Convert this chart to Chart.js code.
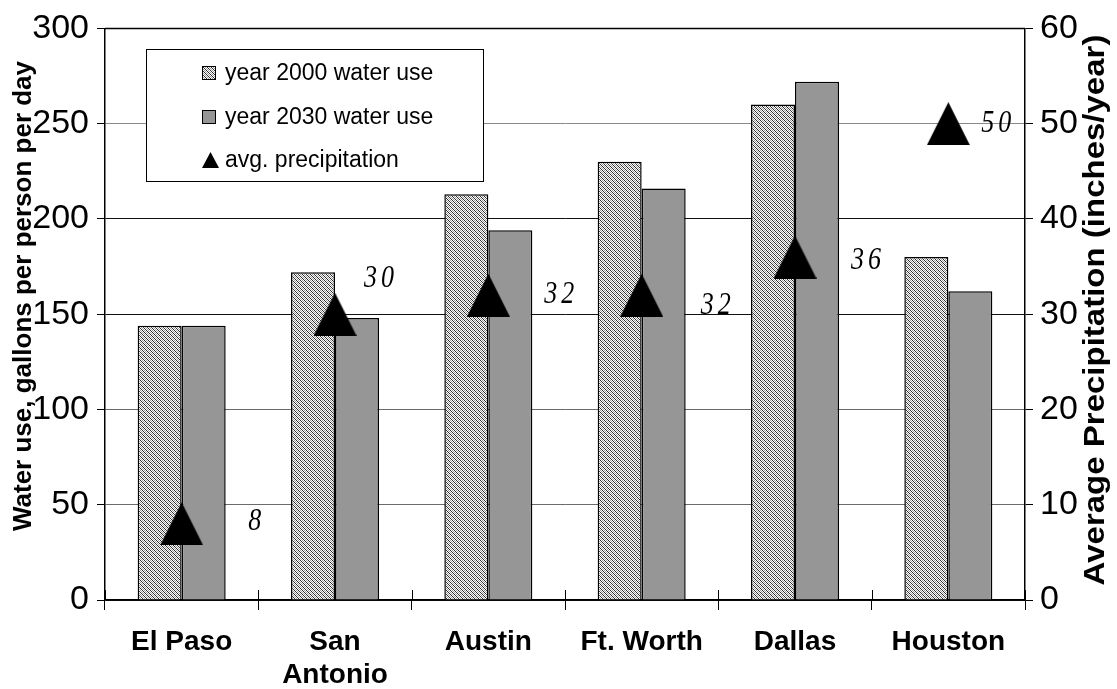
<!DOCTYPE html>
<html>
<head>
<meta charset="utf-8">
<script src="https://cdn.jsdelivr.net/npm/chart.js@4.4.0/dist/chart.umd.min.js"></script>
<style>
  html, body { margin: 0; padding: 0; background: #fff; }
  canvas { display: block; }
</style>
</head>
<body>
<canvas id="chart" width="1117" height="689"></canvas>
<script>
// Texas cities: per-capita water use (gallons/person/day) and rainfall (inches/year)
const cities = ['El Paso', ['San', 'Antonio'], 'Austin', 'Ft. Worth', 'Dallas', 'Houston'];
const use2000 = [144, 172, 213, 230, 260, 180];
const use2030 = [144, 148, 194, 216, 272, 162];
const precipitation = [8, 30, 32, 32, 36, 50];
const waterTicks = [0, 50, 100, 150, 200, 250, 300];
const precipTicks = [0, 10, 20, 30, 40, 50, 60];
const seriesNames = ['year 2000 water use', 'year 2030 water use', 'avg. precipitation'];

// where each rainfall label sits relative to its marker
const labelShiftX = [73, 44, 71, 74, 71, 48];
const labelShiftY = [-2, -35, 0, 11, 4, 0];

const canvas = document.getElementById('chart');
const ctx = canvas.getContext('2d');

Chart.defaults.font.family = '"Liberation Sans", Arial, sans-serif';
Chart.defaults.color = '#000';

// fine diagonal dither used for the year-2000 bars
function makeHatch(size) {
  const t = document.createElement('canvas');
  t.width = size; t.height = size;
  const g = t.getContext('2d');
  g.fillStyle = '#ffffff';
  g.fillRect(0, 0, size, size);
  for (let y = 0; y < size; y++) {
    for (let x = 0; x < size; x++) {
      const d = (x - y + size) % size;
      if (d === 0) { g.fillStyle = '#2e2e2e'; g.fillRect(x, y, 1, 1); }
      else if (d === 2) { g.fillStyle = '#9a9a9a'; g.fillRect(x, y, 1, 1); }
    }
  }
  return ctx.createPattern(t, 'repeat');
}

// solid black triangle marker
function makeTriangle(w, h) {
  const c = document.createElement('canvas');
  c.width = w; c.height = h;
  const g = c.getContext('2d');
  g.fillStyle = '#000';
  g.beginPath();
  g.moveTo(w / 2, 0);
  g.lineTo(w, h);
  g.lineTo(0, h);
  g.closePath();
  g.fill();
  return c;
}

const hatch = makeHatch(4);
const marker = makeTriangle(43, 43);
const legendMarker = makeTriangle(17, 16);
const solidGray = '#969696';

const gridShade = { 250: '#8a8a8a', 100: '#6a6a6a', 50: '#6a6a6a' };

// plot frame top edge and the tick marks that cross the category axis
const framePlugin = {
  id: 'frame',
  afterDatasetsDraw(chart) {
    const { ctx, chartArea: a, scales } = chart;
    ctx.save();
    ctx.strokeStyle = '#000';
    ctx.lineWidth = 1.5;
    ctx.beginPath();
    ctx.moveTo(a.left, a.top);
    ctx.lineTo(a.right, a.top);
    ctx.stroke();
    ctx.lineWidth = 1;
    const xs = scales.x;
    for (let i = 0; i <= cities.length; i++) {
      const px = Math.round(xs.getPixelForValue(i - 0.5)) + 0.5;
      ctx.beginPath();
      ctx.moveTo(px, a.bottom - 10);
      ctx.lineTo(px, a.bottom);
      ctx.stroke();
    }
    ctx.restore();
  }
};

// rainfall value labels, axis titles and the boxed legend
const annotatePlugin = {
  id: 'annotate',
  afterDraw(chart) {
    const { ctx } = chart;
    const meta = chart.getDatasetMeta(0);

    ctx.save();
    ctx.fillStyle = '#000';
    ctx.font = 'italic 26px "Liberation Serif", "Times New Roman", serif';
    ctx.textAlign = 'center';
    ctx.textBaseline = 'middle';
    if ('letterSpacing' in ctx) ctx.letterSpacing = '4px';
    meta.data.forEach((pt, i) => {
      ctx.save();
      ctx.translate(pt.x + labelShiftX[i] + 2, pt.y + labelShiftY[i]);
      ctx.scale(1, 1.18);
      ctx.fillText(String(precipitation[i]), 0, 0);
      ctx.restore();
    });
    ctx.restore();

    // axis titles
    ctx.save();
    ctx.fillStyle = '#000';
    ctx.textAlign = 'center';
    ctx.textBaseline = 'middle';
    ctx.font = 'bold 26px "Liberation Sans", Arial, sans-serif';
    ctx.translate(24, 296);
    ctx.rotate(-Math.PI / 2);
    ctx.fillText('Water use, gallons per person per day', 0, 0);
    ctx.restore();

    ctx.save();
    ctx.fillStyle = '#000';
    ctx.textAlign = 'center';
    ctx.textBaseline = 'middle';
    ctx.font = 'bold 33px "Liberation Sans", Arial, sans-serif';
    ctx.translate(1096, 310);
    ctx.rotate(-Math.PI / 2);
    ctx.scale(1, 0.88);
    ctx.fillText('Average Precipitation (inches/year)', 0, 0);
    ctx.restore();

    // legend box
    const bx = 146.5, by = 49.5, bw = 337, bh = 132;
    ctx.save();
    ctx.fillStyle = '#fff';
    ctx.fillRect(bx, by, bw, bh);
    ctx.strokeStyle = '#000';
    ctx.lineWidth = 1;
    ctx.strokeRect(bx, by, bw, bh);
    const rows = [73, 117, 160];
    ctx.font = '23px "Liberation Sans", Arial, sans-serif';
    ctx.textAlign = 'left';
    ctx.textBaseline = 'middle';
    chart.data.datasets.forEach((ds) => {
      const r = ds.legendRow;
      const cy = rows[r];
      if (r < 2) {
        ctx.fillStyle = ds.backgroundColor;
        ctx.fillRect(202.5, cy - 6.5, 13, 13);
        ctx.strokeStyle = '#000';
        ctx.lineWidth = 1;
        ctx.strokeRect(202.5, cy - 6.5, 13, 13);
      } else {
        ctx.drawImage(legendMarker, 202, cy - 8);
      }
      ctx.fillStyle = '#000';
      ctx.fillText(ds.label, 225, cy + 1);
    });
    ctx.restore();
  }
};

new Chart(ctx, {
  data: {
    labels: cities,
    datasets: [
      {
        type: 'line',
        label: seriesNames[2],
        legendRow: 2,
        data: precipitation,
        yAxisID: 'y2',
        showLine: false,
        pointStyle: marker,
        pointRadius: 22,
        order: 0
      },
      {
        type: 'bar',
        label: seriesNames[0],
        legendRow: 0,
        data: use2000,
        yAxisID: 'y',
        backgroundColor: hatch,
        borderColor: '#000',
        borderWidth: 1.5,
        categoryPercentage: 0.574,
        barPercentage: 1,
        order: 1
      },
      {
        type: 'bar',
        label: seriesNames[1],
        legendRow: 1,
        data: use2030,
        yAxisID: 'y',
        backgroundColor: solidGray,
        borderColor: '#000',
        borderWidth: 1.5,
        categoryPercentage: 0.574,
        barPercentage: 1,
        order: 2
      }
    ]
  },
  options: {
    responsive: false,
    devicePixelRatio: 1,
    animation: false,
    layout: { padding: { top: 27, left: 0, right: 0, bottom: 0 } },
    plugins: {
      legend: { display: false },
      tooltip: { enabled: false }
    },
    scales: {
      x: {
        type: 'category',
        offset: true,
        grid: { offset: true, drawOnChartArea: false, tickLength: 10, tickColor: '#000', lineWidth: 1 },
        border: { color: '#000', width: 1.5 },
        ticks: {
          font: { size: 28, weight: 'bold' },
          color: '#000',
          padding: 15,
          maxRotation: 0,
          autoSkip: false
        },
        afterFit(s) { s.height = 89; }
      },
      y: {
        position: 'left',
        min: 0,
        max: 300,
        afterBuildTicks(s) { s.ticks = waterTicks.map(v => ({ value: v })); },
        ticks: { font: { size: 34 }, color: '#000', padding: 8 },
        grid: {
          color: (c) => gridShade[c.tick.value] || '#111',
          tickColor: '#000',
          tickLength: 8,
          lineWidth: 1
        },
        border: { color: '#000', width: 1.5 },
        afterFit(s) { s.width = 105; }
      },
      y2: {
        position: 'right',
        min: 0,
        max: 60,
        afterBuildTicks(s) { s.ticks = precipTicks.map(v => ({ value: v })); },
        ticks: { font: { size: 34 }, color: '#000', padding: 7 },
        grid: { drawOnChartArea: false, tickColor: '#000', tickLength: 8, lineWidth: 1 },
        border: { color: '#000', width: 1.5 },
        afterFit(s) { s.width = 92; }
      }
    }
  },
  plugins: [framePlugin, annotatePlugin]
});
</script>
</body>
</html>
